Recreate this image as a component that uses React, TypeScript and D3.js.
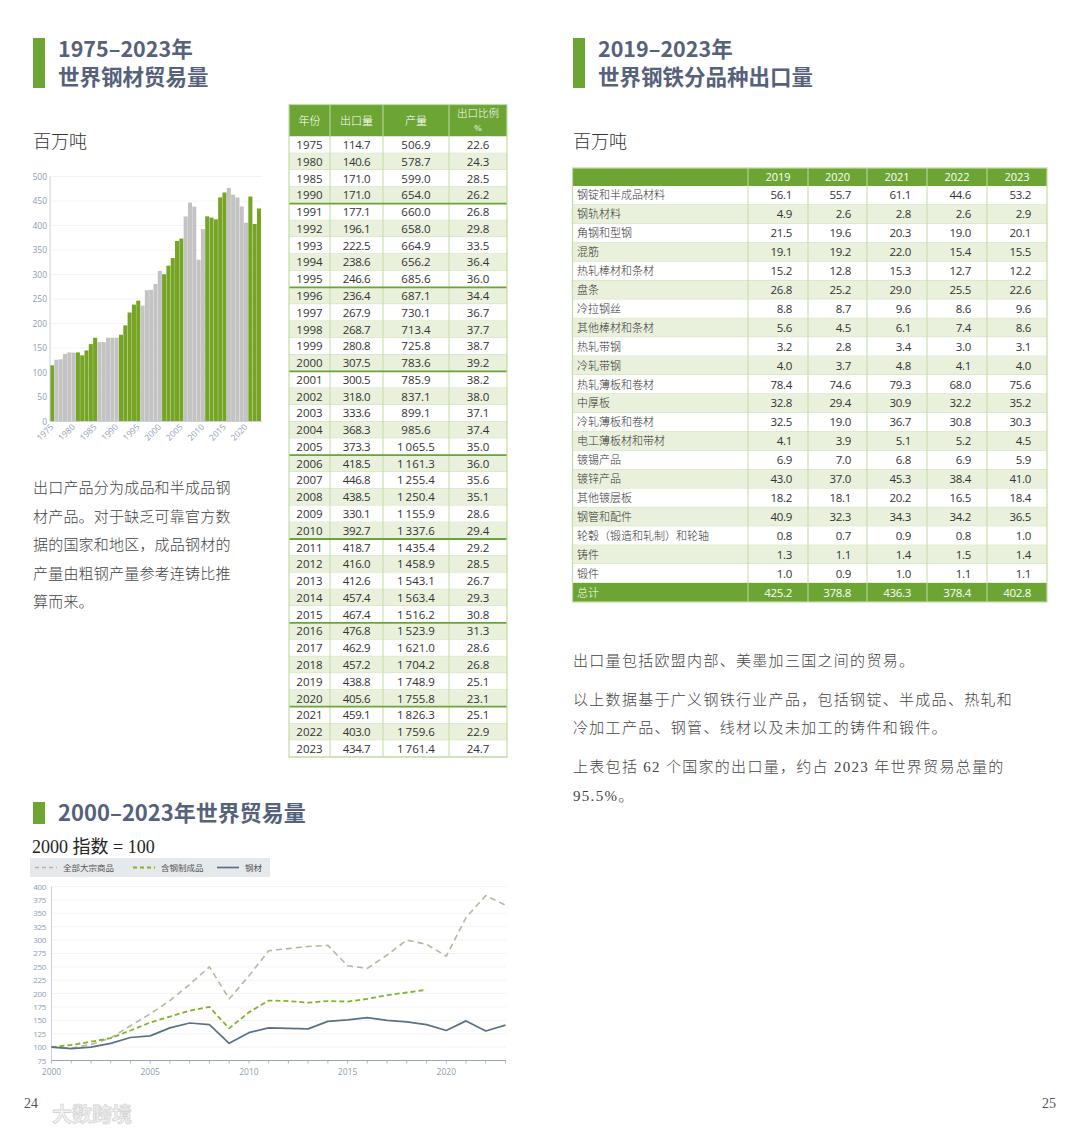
import * as d3 from 'd3';

// ---- bar chart: world steel exports 1975-2023 (Mt) ----
const barYears = d3.range(1975, 2024);
const barValues = [
  114.7, 126, 127, 138, 141, 140.6, 141, 135, 145, 158, 171.0, 162, 162, 171, 171, 171.0,
  177.1, 196.1, 222.5, 238.6, 246.6, 236.4, 267.9, 268.7, 280.8, 307.5,
  300.5, 318.0, 333.6, 368.3, 373.3, 418.5, 446.8, 438.5, 330.1, 392.7,
  418.7, 416.0, 412.6, 457.4, 467.4, 476.8, 462.9, 457.2, 438.8, 405.6,
  459.1, 403.0, 434.7,
];
const barTickYears = [1975, 1980, 1985, 1990, 1995, 2000, 2005, 2010, 2015, 2020];
const barYTicks = d3.range(0, 501, 50);

// ---- left table ----
const tableHeaders = ['年份', '出口量', '产量', '出口比例'];
const tableYears = [1975, 1980, 1985, 1990, ...d3.range(1991, 2024)];
const tableExports = [
  114.7, 140.6, 171.0, 171.0, 177.1, 196.1, 222.5, 238.6, 246.6, 236.4, 267.9, 268.7, 280.8,
  307.5, 300.5, 318.0, 333.6, 368.3, 373.3, 418.5, 446.8, 438.5, 330.1, 392.7, 418.7, 416.0,
  412.6, 457.4, 467.4, 476.8, 462.9, 457.2, 438.8, 405.6, 459.1, 403.0, 434.7,
];
const tableProduction = [
  506.9, 578.7, 599.0, 654.0, 660.0, 658.0, 664.9, 656.2, 685.6, 687.1, 730.1, 713.4, 725.8,
  783.6, 785.9, 837.1, 899.1, 985.6, 1065.5, 1161.3, 1255.4, 1250.4, 1155.9, 1337.6, 1435.4,
  1458.9, 1543.1, 1563.4, 1516.2, 1523.9, 1621.0, 1704.2, 1748.9, 1755.8, 1826.3, 1759.6, 1761.4,
];
const tableRatio = [
  22.6, 24.3, 28.5, 26.2, 26.8, 29.8, 33.5, 36.4, 36.0, 34.4, 36.7, 37.7, 38.7, 39.2, 38.2,
  38.0, 37.1, 37.4, 35.0, 36.0, 35.6, 35.1, 28.6, 29.4, 29.2, 28.5, 26.7, 29.3, 30.8, 31.3,
  28.6, 26.8, 25.1, 23.1, 25.1, 22.9, 24.7,
];

// ---- right table: exports by product ----
const productYears = [2019, 2020, 2021, 2022, 2023];
const productNames = [
  '钢锭和半成品材料', '钢轨材料', '角钢和型钢', '混筋', '热轧棒材和条材', '盘条', '冷拉钢丝',
  '其他棒材和条材', '热轧带钢', '冷轧带钢', '热轧薄板和卷材', '中厚板', '冷轧薄板和卷材',
  '电工薄板材和带材', '镀锡产品', '镀锌产品', '其他镀层板', '钢管和配件',
  '轮毂（锻造和轧制）和轮轴', '铸件', '锻件',
];
const productValues = [
  [56.1, 55.7, 61.1, 44.6, 53.2],
  [4.9, 2.6, 2.8, 2.6, 2.9],
  [21.5, 19.6, 20.3, 19.0, 20.1],
  [19.1, 19.2, 22.0, 15.4, 15.5],
  [15.2, 12.8, 15.3, 12.7, 12.2],
  [26.8, 25.2, 29.0, 25.5, 22.6],
  [8.8, 8.7, 9.6, 8.6, 9.6],
  [5.6, 4.5, 6.1, 7.4, 8.6],
  [3.2, 2.8, 3.4, 3.0, 3.1],
  [4.0, 3.7, 4.8, 4.1, 4.0],
  [78.4, 74.6, 79.3, 68.0, 75.6],
  [32.8, 29.4, 30.9, 32.2, 35.2],
  [32.5, 19.0, 36.7, 30.8, 30.3],
  [4.1, 3.9, 5.1, 5.2, 4.5],
  [6.9, 7.0, 6.8, 6.9, 5.9],
  [43.0, 37.0, 45.3, 38.4, 41.0],
  [18.2, 18.1, 20.2, 16.5, 18.4],
  [40.9, 32.3, 34.3, 34.2, 36.5],
  [0.8, 0.7, 0.9, 0.8, 1.0],
  [1.3, 1.1, 1.4, 1.5, 1.4],
  [1.0, 0.9, 1.0, 1.1, 1.1],
];
const productTotals = [425.2, 378.8, 436.3, 378.4, 402.8];

// ---- line chart: world trade index (2000 = 100) ----
const tradeYears = d3.range(2000, 2024);
const allGoods = [
  100, 98, 105, 117, 140, 162, 187, 217, 250, 190, 233, 280, 284, 288, 290, 252, 247, 272,
  300, 292, 270, 342, 383, 365,
];
const steelGoods = [
  100, 104, 110, 117, 131, 146, 157, 168, 175, 135, 165, 187, 186, 183, 186, 185, 190, 197,
  202, 207,
];
const steelProducts = [
  100, 97, 100, 107, 118, 121, 136, 145, 142, 107, 127, 136, 135, 134, 148, 151, 155, 150,
  147, 142, 131, 149, 130, 141,
];
const tradeLegend = ['全部大宗商品', '含钢制成品', '钢材'];
const tradeYTicks = d3.range(75, 401, 25);
const tradeXLabels = [2000, 2005, 2010, 2015, 2020];

const GREEN = '#6ca534';
const BAR_GREEN = '#76a425';
const BAR_GREY = '#c3c3c3';
const TITLE = '#56617b';
const LIGHT_ROW = '#e9f1dc';
const CELL_LINE = '#c3dba4';
const AXIS_TEXT = '#8d9db0';
const SANS = '"Open Sans", "Noto Sans", "Noto Sans CJK SC", sans-serif';
const SERIF = '"Liberation Serif", "DejaVu Serif", "Noto Sans CJK SC", serif';
const CJK = '"Noto Sans CJK SC", "Noto Sans", sans-serif';

const fmt1 = d3.format('.1f');
const fmtThousands = d3
  .formatLocale({ decimal: '.', thousands: '\u2009', grouping: [3], currency: ['', ''] })
  .format(',.1f');

// section heading: green block + one or two lines in a single text element
function Title({ x, y, lines }: { x: number; y: number; lines: string[] }) {
  const h = lines.length === 2 ? 50 : 22;
  return (
    <g>
      <rect x={x} y={y} width={12} height={h} fill={GREEN} />
      <text x={x + 25} y={y + 19} fontFamily={CJK} fontWeight={700} fontSize={lines.length === 2 ? 21.5 : 22} fill={TITLE}>
        {lines.map((l, i) => (
          <tspan key={i} x={x + 25} dy={i === 0 ? 0 : 27.5}>
            {l}
          </tspan>
        ))}
      </text>
    </g>
  );
}

function BarChart() {
  const x = d3.scaleBand<number>().domain(barYears).range([50, 261]).paddingInner(0.06);
  const y = d3.scaleLinear().domain([0, 500]).range([421.5, 176.5]);
  const colorFor = (yr: number) => {
    const g = Math.floor((yr - 1976) / 5);
    return ((g % 2) + 2) % 2 === 1 ? BAR_GREEN : BAR_GREY;
  };
  return (
    <g>
      {barYTicks.map((t) => (
        <g key={t}>
          <line x1={50} x2={262} y1={y(t)} y2={y(t)} stroke="#eef1f4" strokeWidth={0.8} />
          <text x={47} y={y(t) + 3} textAnchor="end" fontFamily={SANS} fontSize={8.5} fill={AXIS_TEXT}>
            {t}
          </text>
        </g>
      ))}
      {barYears.map((yr, i) => (
        <rect key={yr} x={x(yr)} y={y(barValues[i])} width={x.bandwidth()} height={y(0) - y(barValues[i])} fill={colorFor(yr)} />
      ))}
      <line x1={50} x2={50} y1={y(500)} y2={y(0)} stroke="#c9d2dc" strokeWidth={1} />
      <line x1={50} x2={262} y1={y(0)} y2={y(0)} stroke="#c9d2dc" strokeWidth={1} />
      {barTickYears.map((yr) => {
        const cx = (x(yr) ?? 0) + x.bandwidth() / 2;
        return (
          <text key={yr} transform={`translate(${cx + 2},${y(0) + 6}) rotate(-45)`} textAnchor="end" fontFamily={SANS} fontSize={8.5} fill={AXIS_TEXT}>
            {yr}
          </text>
        );
      })}
    </g>
  );
}

function ExportTable() {
  const cols = [289, 330, 383, 449, 507];
  const top = 104.5;
  const headH = 32;
  const rowH = (757 - (top + headH)) / tableYears.length;
  const rowY = d3.scaleLinear().domain([0, tableYears.length]).range([top + headH, top + headH + rowH * tableYears.length]);
  const mid = (i: number) => (cols[i] + cols[i + 1]) / 2;
  const bottom = rowY(tableYears.length);
  return (
    <g>
      <rect x={cols[0]} y={top} width={cols[4] - cols[0]} height={headH} fill={GREEN} />
      {tableHeaders.map((h, i) =>
        i < 3 ? (
          <text key={h} x={mid(i)} y={top + 20} textAnchor="middle" fontFamily={SERIF} fontSize={11} fontWeight={300} fill="#fff">
            {h}
          </text>
        ) : (
          <text key={h} x={mid(i)} y={top + 12} textAnchor="middle" fontFamily={SERIF} fontSize={10.5} fontWeight={300} fill="#fff">
            <tspan x={mid(i)}>{h}</tspan>
            <tspan x={mid(i)} dy={14} fontSize={9}>%</tspan>
          </text>
        )
      )}
      {tableYears.map((yr, i) => (
        <g key={yr}>
          <rect x={cols[0]} y={rowY(i)} width={cols[4] - cols[0]} height={rowH} fill={i % 2 === 1 ? LIGHT_ROW : '#fff'} />
          <line x1={cols[0]} x2={cols[4]} y1={rowY(i + 1)} y2={rowY(i + 1)} stroke={CELL_LINE} strokeWidth={0.8} />
          {[String(yr), fmt1(tableExports[i]), fmtThousands(tableProduction[i]), fmt1(tableRatio[i])].map((v, c) => (
            <text key={c} x={mid(c)} y={rowY(i) + rowH / 2 + 4.2} textAnchor="middle" fontFamily={SANS} fontSize={11.5} fill="#333" letterSpacing={c === 1 ? -0.4 : 0}>
              {v}
            </text>
          ))}
        </g>
      ))}
      {cols.slice(1, 4).map((cx) => (
        <line key={cx} x1={cx} x2={cx} y1={top} y2={bottom} stroke={CELL_LINE} strokeWidth={1} />
      ))}
      {tableYears.map((yr, i) =>
        yr >= 1990 && yr % 5 === 0 && i < tableYears.length - 1 ? (
          <line key={yr} x1={cols[0]} x2={cols[4]} y1={rowY(i + 1)} y2={rowY(i + 1)} stroke={GREEN} strokeWidth={1.8} />
        ) : null
      )}
      <rect x={cols[0]} y={top} width={cols[4] - cols[0]} height={bottom - top} fill="none" stroke={CELL_LINE} strokeWidth={1.2} />
    </g>
  );
}

function ProductTable() {
  const cols = [572.5, 748, 808, 867, 927, 987, 1047];
  const top = 168;
  const headH = 18;
  const rowH = (583 - (top + headH)) / productNames.length;
  const rowY = d3.scaleLinear().domain([0, productNames.length]).range([top + headH, top + headH + rowH * productNames.length]);
  const totalY = rowY(productNames.length);
  const bottom = totalY + 19;
  return (
    <g>
      <rect x={cols[0]} y={top} width={cols[6] - cols[0]} height={headH} fill={GREEN} />
      {productYears.map((yr, j) => (
        <text key={yr} x={(cols[j + 1] + cols[j + 2]) / 2} y={top + 13} textAnchor="middle" fontFamily={SANS} fontSize={11} fill="#fff">
          {yr}
        </text>
      ))}
      {productNames.map((name, i) => (
        <g key={name}>
          <rect x={cols[0]} y={rowY(i)} width={cols[6] - cols[0]} height={rowH} fill={i % 2 === 1 ? LIGHT_ROW : '#fff'} />
          <line x1={cols[0]} x2={cols[6]} y1={rowY(i + 1)} y2={rowY(i + 1)} stroke={CELL_LINE} strokeWidth={0.8} />
          <text x={577} y={rowY(i) + rowH / 2 + 4} fontFamily={SERIF} fontSize={11} fontWeight={300} fill="#333">
            {name}
          </text>
          {productValues[i].map((v, j) => (
            <text key={j} x={cols[j + 2] - 16} y={rowY(i) + rowH / 2 + 4} textAnchor="end" fontFamily={SANS} fontSize={11.5} fill="#333" letterSpacing={-0.3}>
              {fmt1(v)}
            </text>
          ))}
        </g>
      ))}
      <rect x={cols[0]} y={totalY} width={cols[6] - cols[0]} height={bottom - totalY} fill={GREEN} />
      <text x={577} y={totalY + 13.5} fontFamily={SERIF} fontSize={11} fontWeight={300} fill="#fff">
        总计
      </text>
      {productTotals.map((v, j) => (
        <text key={j} x={cols[j + 2] - 16} y={totalY + 13.5} textAnchor="end" fontFamily={SANS} fontSize={11.5} fill="#fff" letterSpacing={-0.3}>
          {fmt1(v)}
        </text>
      ))}
      {cols.slice(1, 6).map((cx) => (
        <line key={cx} x1={cx} x2={cx} y1={top} y2={bottom} stroke={CELL_LINE} strokeWidth={1} />
      ))}
      <rect x={cols[0]} y={top} width={cols[6] - cols[0]} height={bottom - top} fill="none" stroke={CELL_LINE} strokeWidth={1.2} />
    </g>
  );
}

function TradeChart() {
  const x = d3.scaleLinear().domain([2000, 2023]).range([51.5, 505.5]);
  const y = d3.scaleLinear().domain([75, 400]).range([1060.5, 886.5]);
  const line = d3
    .line<number>()
    .x((_, i) => x(tradeYears[i]))
    .y((d) => y(d));
  const series = [
    { data: allGoods, stroke: '#b9b69e', dash: '6,4', w: 1.6 },
    { data: steelGoods, stroke: '#82b22e', dash: '5,3', w: 1.8 },
    { data: steelProducts, stroke: '#5b7186', dash: undefined, w: 1.7 },
  ];
  const legendX = [35, 133, 217];
  return (
    <g>
      <rect x={30} y={858} width={240} height={19} fill="#e6e9ec" />
      {tradeLegend.map((l, i) => (
        <g key={l}>
          <line x1={legendX[i]} x2={legendX[i] + 22} y1={867.5} y2={867.5} stroke={series[i].stroke} strokeWidth={series[i].w} strokeDasharray={i < 2 ? '4,3' : undefined} />
          <text x={legendX[i] + 28} y={870.5} fontFamily={CJK} fontSize={8.5} fill="#555">
            {l}
          </text>
        </g>
      ))}
      {tradeYTicks.map((t) => (
        <g key={t}>
          <line x1={51.5} x2={506} y1={y(t)} y2={y(t)} stroke="#eef1f4" strokeWidth={0.8} />
          <text x={46} y={y(t) + 3} textAnchor="end" fontFamily={SANS} fontSize={8} fill={AXIS_TEXT} letterSpacing={-0.3}>
            {t}
          </text>
        </g>
      ))}
      <line x1={51.5} x2={51.5} y1={y(400)} y2={y(75)} stroke="#c9d2dc" strokeWidth={1} />
      {series.map((s, i) => (
        <path key={i} d={line(s.data) ?? ''} fill="none" stroke={s.stroke} strokeWidth={s.w} strokeDasharray={s.dash} strokeLinejoin="round" />
      ))}
      <line x1={51.5} x2={506} y1={y(75)} y2={y(75)} stroke="#97a6b6" strokeWidth={1.2} />
      {tradeYears.map((yr) => (
        <line key={yr} x1={x(yr)} x2={x(yr)} y1={y(75)} y2={y(75) + 3} stroke="#97a6b6" strokeWidth={0.8} />
      ))}
      {tradeXLabels.map((yr) => (
        <text key={yr} x={x(yr)} y={1075} textAnchor="middle" fontFamily={SANS} fontSize={8.5} fill={AXIS_TEXT}>
          {yr}
        </text>
      ))}
    </g>
  );
}

const leftNote = [
  '出口产品分为成品和半成品钢',
  '材产品。对于缺乏可靠官方数',
  '据的国家和地区，成品钢材的',
  '产量由粗钢产量参考连铸比推',
  '算而来。',
];
const rightNote = [
  { t: '出口量包括欧盟内部、美墨加三国之间的贸易。', y: 666 },
  { t: '以上数据基于广义钢铁行业产品，包括钢锭、半成品、热轧和', y: 705 },
  { t: '冷加工产品、钢管、线材以及未加工的铸件和锻件。', y: 733 },
  { t: '上表包括 62 个国家的出口量，约占 2023 年世界贸易总量的', y: 772 },
  { t: '95.5%。', y: 801 },
];

export default function App() {
  return (
    <div style={{ position: 'absolute', left: 0, top: 0, width: 1080, height: 1133, background: '#fff' }}>
      <svg width={1080} height={1133} viewBox="0 0 1080 1133" style={{ display: 'block' }}>
        <Title x={33} y={38} lines={['1975–2023年', '世界钢材贸易量']} />
        <Title x={573} y={38} lines={['2019–2023年', '世界钢铁分品种出口量']} />
        <Title x={33} y={802} lines={['2000–2023年世界贸易量']} />

        <text x={33} y={148} fontFamily={SERIF} fontSize={18} fontWeight={300} fill="#333">百万吨</text>
        <text x={573} y={148} fontFamily={SERIF} fontSize={18} fontWeight={300} fill="#333">百万吨</text>
        <text x={32} y={853} fontFamily={SERIF} fontSize={18} fill="#222">2000 指数 = 100</text>

        <BarChart />
        <ExportTable />
        <ProductTable />
        <TradeChart />

        {leftNote.map((l, i) => (
          <text key={i} x={33} y={493 + i * 28.5} fontFamily={SERIF} fontSize={15} fontWeight={300} fill="#444" letterSpacing={0.2}>
            {l}
          </text>
        ))}
        {rightNote.map((l, i) => (
          <text key={i} x={573} y={l.y} fontFamily={SERIF} fontSize={15} fontWeight={300} fill="#444" letterSpacing={1.3}>
            {l.t}
          </text>
        ))}

        <text x={24} y={1108} fontFamily={SERIF} fontSize={14} fill="#555">24</text>
        <text x={1042} y={1108} fontFamily={SERIF} fontSize={14} fill="#555">25</text>
        <text x={52} y={1122} fontFamily={CJK} fontSize={20} fontWeight={700} fill="#f2f2f2" stroke="#d6d6d6" strokeWidth={0.8}>
          大数跨境
        </text>
      </svg>
    </div>
  );
}
